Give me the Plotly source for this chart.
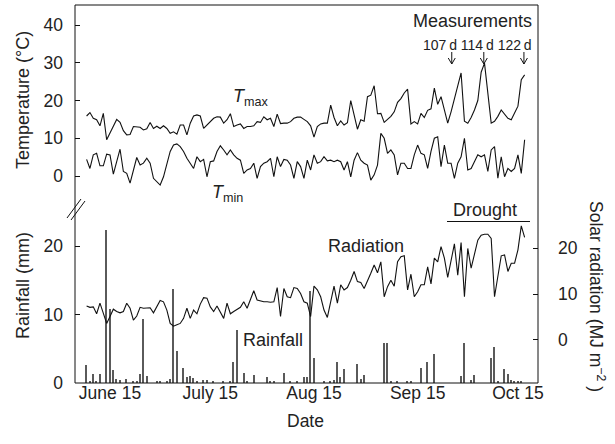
import pandas as pd
import plotly.graph_objects as go

# ---- daily weather record, 8 June – 17 October ----
start_date = "2010-06-08"

t_max = [
    15.9, 16.8, 15.3, 14.9, 13.3, 16.6, 9.6, 11.5, 13.5, 15.0,
    14.2, 12.0, 10.9, 11.0, 13.1, 12.9, 12.9, 12.2, 12.5, 14.2,
    12.6, 13.2, 12.6, 13.3, 12.6, 11.3, 11.7, 11.1, 13.5, 13.5,
    10.9, 14.0, 15.9, 16.2, 15.9, 12.6, 13.5, 14.6, 15.3, 15.7,
    15.6, 14.0, 14.9, 16.5, 13.1, 13.5, 13.8, 12.6, 13.1, 13.1,
    13.3, 14.4, 14.2, 15.7, 14.9, 15.3, 13.1, 16.4, 13.9, 14.0,
    14.0, 14.4, 15.3, 15.6, 15.6, 15.0, 14.4, 13.3, 10.3, 13.1,
    13.8, 14.0, 14.0, 18.8, 15.5, 13.3, 14.6, 13.5, 14.1, 20.0,
    16.0, 12.4, 14.9, 14.5, 21.0, 21.4, 23.9, 16.5, 16.6, 14.2,
    15.0, 15.8, 17.0, 19.5, 20.5, 22.0, 23.0, 13.8, 14.4, 13.8,
    16.6, 15.5, 17.4, 17.8, 23.3, 19.0, 21.0, 17.5, 14.0, 17.0,
    20.5, 24.5, 27.3, 14.5, 14.0, 15.5, 17.5, 20.0, 27.5, 29.9,
    21.0, 14.0, 14.5, 15.8, 17.5, 16.5, 15.3, 14.9, 16.5, 18.5,
    25.5, 26.8,
]

t_min = [
    4.4, 2.0, 5.6, 6.0, 2.7, 2.7, 5.8, 5.6, 0.5, 4.2,
    7.1, 1.2, 0.7, -1.9, 1.6, 4.9, 2.9, 3.4, 4.7, 3.4,
    -0.6, -1.5, -2.4, -0.2, 3.4, 6.5, 8.2, 8.5, 7.8, 6.5,
    4.7, 3.4, 2.0, 5.1, 3.8, 4.4, -0.2, 3.8, 4.0, 6.5,
    8.0, 6.9, 5.6, 6.9, 5.6, 4.7, 4.2, 0.7, 1.6, 2.0,
    3.4, -0.6, 2.5, 3.4, 3.8, 4.7, -0.2, 5.1, 2.5, 4.4,
    4.2, 2.9, -0.6, 3.8, 2.5, -0.6, 4.2, 1.6, 5.6, 3.4,
    3.8, 5.1, 4.0, 4.2, 3.8, 4.2, 3.8, 1.6, 3.8, -0.2,
    4.2, 6.2, 4.2, 3.4, 2.9, -1.1, 0.3, 2.9, 11.3, 10.0,
    6.0, 6.9, 5.6, 0.3, 3.4, 3.4, 2.0, 2.0, 5.6, 8.2,
    6.0, 5.6, 2.0, 6.5, 10.0, 10.4, 2.5, 8.2, 3.4, 3.4,
    -0.6, 3.4, 5.1, 10.0, 1.6, 2.0, 3.8, 5.6, 5.1, 5.6,
    1.2, 6.9, 7.8, -0.6, 5.1, -0.2, 2.0, 1.2, 2.0, 5.6,
    0.7, 9.6,
]

radiation = [
    7.4, 7.1, 7.2, 5.7, 8.0, 5.8, 3.6, 5.1, 6.7, 6.2,
    5.9, 6.2, 8.0, 6.9, 4.3, 5.2, 7.1, 6.9, 6.9, 7.0,
    5.9, 7.4, 8.6, 8.3, 6.5, 3.6, 3.0, 3.3, 3.6, 4.7,
    6.9, 4.7, 6.5, 5.7, 7.8, 9.2, 9.1, 7.2, 6.2, 7.4,
    5.9, 4.7, 8.0, 5.7, 6.2, 6.7, 7.1, 8.3, 6.9, 8.8,
    10.7, 8.7, 8.5, 8.3, 8.3, 8.2, 8.3, 11.4, 5.1, 11.2,
    9.4, 9.2, 11.4, 11.2, 10.1, 8.3, 8.0, 5.1, 11.7, 10.9,
    9.4, 6.5, 4.9, 8.3, 11.7, 8.0, 12.0, 10.9, 11.4, 13.0,
    14.9, 12.7, 12.5, 11.2, 12.7, 14.5, 16.3, 14.6, 17.0, 9.4,
    11.6, 13.0, 11.7, 17.0, 18.1, 18.3, 10.9, 14.3, 9.4, 10.5,
    12.0, 12.0, 15.9, 12.2, 17.8, 17.0, 20.3, 17.8, 13.6, 17.0,
    20.9, 14.1, 21.2, 9.4, 19.9, 15.6, 18.5, 21.7, 22.8, 23.0,
    23.0, 22.1, 9.4, 14.1, 18.3, 18.5, 14.9, 16.7, 16.7, 19.6,
    24.8, 22.3,
]

rainfall = [
    2.6, 0.2, 1.3, 0.2, 1.3, 0.0, 22.3, 10.8, 1.9, 0.6,
    0.4, 0.0, 0.6, 0.0, 0.2, 0.2, 1.3, 9.3, 1.0, 0.0,
    0.0, 0.2, 0.2, 0.0, 0.2, 0.6, 13.8, 4.7, 0.0, 2.2,
    0.9, 1.0, 0.8, 0.3, 0.0, 0.4, 0.4, 0.0, 0.2, 0.0,
    0.0, 0.2, 0.0, 0.2, 3.0, 7.8, 0.0, 1.4, 0.2, 0.0,
    1.2, 0.0, 0.0, 0.0, 0.9, 0.3, 0.3, 0.0, 0.0, 1.4,
    0.0, 0.3, 0.0, 0.3, 0.0, 0.9, 0.9, 13.5, 3.6, 0.0,
    0.0, 0.2, 0.0, 0.2, 0.4, 3.0, 0.9, 2.0, 0.0, 0.0,
    0.0, 2.8, 0.6, 1.1, 0.0, 0.0, 0.0, 0.0, 0.0, 5.8,
    5.8, 0.2, 0.0, 0.2, 0.0, 0.0, 0.2, 0.2, 0.0, 0.0,
    2.2, 0.0, 3.0, 0.0, 4.3, 0.0, 0.0, 0.0, 0.0, 0.0,
    0.0, 0.0, 1.0, 5.8, 0.0, 0.4, 1.2, 0.0, 0.0, 0.0,
    0.0, 3.6, 5.3, 0.2, 0.0, 2.0, 1.3, 0.4, 0.3, 0.3,
    0.2, 0.0,
]

date_ticks = ["2010-06-15", "2010-07-15", "2010-08-15", "2010-09-15", "2010-10-15"]
date_tick_text = ["June 15", "July 15", "Aug 15", "Sep 15", "Oct 15"]
measurement_dates = ["2010-09-25 05:00", "2010-10-04 19:00", "2010-10-16 19:00"]

dates = pd.date_range(start_date, periods=len(t_max), freq="D")

# ---- layout geometry (pixels) ----
W, H = 615, 444
ML, MR, MT, MB = 75, 77, 5, 61
PW, PH = W - ML - MR, H - MT - MB


def px(x):
    return (x - ML) / PW


def py(y):
    return (H - MB - y) / PH


FONT = "Liberation Sans, Arial, sans-serif"
TXT = "#222222"
LINE = "#111111"
BAR = "#5a5a5a"

fig = go.Figure()

fig.add_trace(go.Bar(
    x=dates, y=rainfall, yaxis="y2", marker=dict(color=BAR, line=dict(width=0)),
    width=0.45 * 86400000, showlegend=False, hoverinfo="x+y",
))
fig.add_trace(go.Scatter(
    x=dates, y=radiation, yaxis="y3", mode="lines",
    line=dict(color=LINE, width=1.1), showlegend=False,
))
fig.add_trace(go.Scatter(
    x=dates, y=t_max, yaxis="y", mode="lines",
    line=dict(color=LINE, width=1.1), showlegend=False,
))
fig.add_trace(go.Scatter(
    x=dates, y=t_min, yaxis="y", mode="lines",
    line=dict(color=LINE, width=1.1), showlegend=False,
))

tickfont = dict(family=FONT, size=17.5, color=TXT)

fig.update_layout(
    width=W, height=H,
    margin=dict(l=ML, r=MR, t=MT, b=MB),
    paper_bgcolor="white", plot_bgcolor="white",
    bargap=0,
    xaxis=dict(
        type="date", range=["2010-06-04 12:45", "2010-10-21"],
        tickvals=date_ticks, ticktext=date_tick_text, tickfont=tickfont,
        ticks="", showgrid=False, zeroline=False, showline=False,
        ticklabelstandoff=-3,
    ),
    yaxis=dict(
        range=[-54.83, 45.30], tickvals=[0, 10, 20, 30, 40],
        ticks="inside", ticklen=5, tickcolor=LINE, tickfont=tickfont,
        showgrid=False, zeroline=False, showline=False, ticklabelstandoff=11,
    ),
    yaxis2=dict(
        overlaying="y", side="left", range=[0, 55.2], tickvals=[0, 10, 20],
        ticks="inside", ticklen=5, tickcolor=LINE, tickfont=tickfont,
        showgrid=False, zeroline=False, showline=False, ticklabelstandoff=11,
    ),
    yaxis3=dict(
        overlaying="y", side="right", range=[-9.35, 72.83], tickvals=[0, 10, 20],
        ticks="inside", ticklen=5, tickcolor=LINE, tickfont=tickfont,
        showgrid=False, zeroline=False, showline=False, ticklabelstandoff=19,
    ),
)

thin = dict(color=LINE, width=1)
shapes = [
    # frame around the plotting area
    dict(type="rect", xref="paper", yref="paper", x0=0, x1=1, y0=0, y1=1, line=thin),
    # axis-break marks
    dict(type="line", xref="paper", yref="paper",
         x0=px(67), y0=py(218), x1=px(81), y1=py(199), line=thin),
    dict(type="line", xref="paper", yref="paper",
         x0=px(71), y0=py(220), x1=px(85), y1=py(201), line=thin),
    # drought period bar
    dict(type="line", xref="paper", yref="paper",
         x0=px(447), y0=py(221.5), x1=px(530), y1=py(221.5), line=thin),
]

# measurement arrows: shaft plus open head, anchored at each date
for d in measurement_dates:
    shapes.append(dict(type="line", xref="x", xsizemode="pixel", xanchor=d,
                       x0=0, x1=0, yref="paper", y0=py(52), y1=py(64), line=thin))
    for side in (-3.5, 3.5):
        shapes.append(dict(type="line", xref="x", xsizemode="pixel", xanchor=d,
                           x0=side, x1=0, yref="paper", y0=py(58), y1=py(64), line=thin))

fig.update_layout(shapes=shapes)


def label(text, x, y, size=18, angle=0):
    return dict(text=text, xref="paper", yref="paper", x=px(x), y=py(y),
                xanchor="center", yanchor="middle", showarrow=False,
                textangle=angle, font=dict(family=FONT, size=size, color=TXT))


annotations = [
    label("<i>T</i><sub>max</sub>", 250, 97, size=18),
    label("<i>T</i><sub>min</sub>", 227, 193, size=18),
    label("Measurements", 472, 21, size=18),
    label("107\u2009d 114\u2009d 122\u2009d", 477, 45, size=14),
    label("Drought", 485, 210, size=18),
    label("Radiation", 366, 246, size=18),
    label("Rainfall", 273, 340, size=18),
    label("Temperature (\u00b0C)", 23, 100, size=18, angle=-90),
    label("Rainfall (mm)", 23, 286, size=18, angle=-90),
    label("Solar radiation (MJ m<sup>\u22122</sup> )", 597, 296, size=17.5, angle=90),
    label("Date", 305, 421, size=17.5),
]

fig.update_layout(annotations=annotations)

fig.write_html("out.html")
